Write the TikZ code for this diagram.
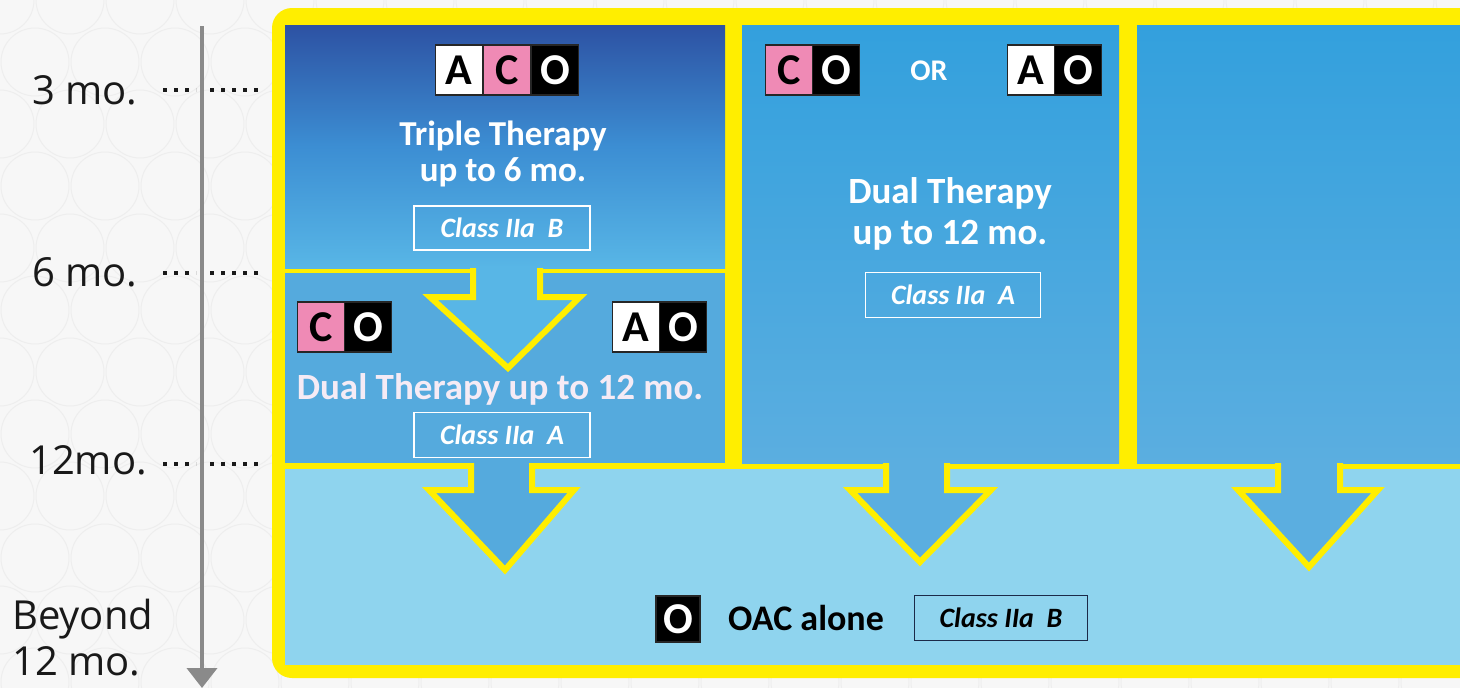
\documentclass[tikz,border=0pt]{standalone}
\usepackage{fontspec}
\setmainfont{Carlito}
\newfontfamily\axisfont{Open Sans}
\usetikzlibrary{arrows.meta}
\definecolor{ylw}{HTML}{FFEE00}
\definecolor{bgc}{HTML}{F7F7F7}
\definecolor{bgcirc}{HTML}{EEEEEE}
\definecolor{tltop}{HTML}{2D52A3}
\definecolor{tlmid}{HTML}{3C8ED3}
\definecolor{tlbot}{HTML}{58B6E6}
\definecolor{mlc}{HTML}{55AADD}
\definecolor{coltop}{HTML}{33A0DD}
\definecolor{colbot}{HTML}{5BAEE0}
\definecolor{bandc}{HTML}{8FD4EE}
\definecolor{cpink}{HTML}{EF8AB5}
\definecolor{axisgray}{HTML}{8A8A8A}
\definecolor{navy}{HTML}{1B2A48}
\tikzset{
  let/.style={draw=black!85, line width=1.5pt, minimum width=47pt, minimum height=50pt, inner sep=0pt,
    font=\fontsize{44}{44}\selectfont\bfseries},
  letA/.style={let, fill=white, text=black},
  letC/.style={let, fill=cpink, text=black},
  letO/.style={let, fill=black, text=white},
  cls/.style={draw=white, line width=1.5pt, minimum width=176pt, minimum height=44pt, inner sep=0pt,
    text=white, font=\fontsize{28}{28}\selectfont\bfseries\itshape},
  ttl/.style={text=white, align=center, inner sep=0pt},
  ylwline/.style={draw=ylw, line width=6pt, line join=miter},
  axlbl/.style={font=\axisfont\fontsize{40}{46}\selectfont, text=black!90, inner sep=0pt},
  dotline/.style={draw=black!90, line width=4pt, dash pattern=on 4pt off 7pt},
  axisline/.style={draw=axisgray, line width=4pt, -{Triangle[width=30pt,length=20pt]}},
}
\begin{document}
\begin{tikzpicture}[x=1pt,y=-1pt]
\useasboundingbox (0,0) rectangle (1460,688);
\clip (0,0) rectangle (1460,688);
% background
\fill[bgc] (0,0) rectangle (1460,688);
\foreach \i in {0,...,21}{
  \foreach \j in {0,...,11}{
    \draw[bgcirc, line width=1pt] ({\i*70+mod(\j,2)*35},{\j*62}) circle[radius=34pt];
  }
}
% outer yellow frame
\fill[ylw, rounded corners=20pt] (272,8) rectangle (1490,678);
% top-left: triple therapy
\shade[top color=tltop, bottom color=tlbot, middle color=tlmid] (285,25) rectangle (725,268);
% middle-left: dual therapy
\fill[mlc] (285,273) rectangle (725,463);
% arrow from triple to dual
\fill[tlbot] (473,266) -- (473,297) -- (430,297) -- (508,368) -- (580,297) -- (540,297) -- (540,266) -- cycle;
\draw[ylwline] (473,268) -- (473,297) -- (430,297) -- (508,368) -- (580,297) -- (540,297) -- (540,268);
% middle column
\shade[top color=coltop, bottom color=colbot] (742,25) rectangle (1119,463);
% right column
\shade[top color=coltop, bottom color=colbot] (1137,25) rectangle (1490,463);
% bottom band
\fill[bandc] (285,469) rectangle (1490,665);
% bottom arrows
\fill[mlc] (471,461) -- (471,490) -- (429,490) -- (505,570) -- (574,490) -- (532,490) -- (532,461) -- cycle;
\draw[ylwline] (471,463) -- (471,490) -- (429,490) -- (505,570) -- (574,490) -- (532,490) -- (532,463);
\fill[colbot] (886,461) -- (886,490) -- (850,490) -- (920,562) -- (991,490) -- (947,490) -- (947,461) -- cycle;
\draw[ylwline] (886,463) -- (886,490) -- (850,490) -- (920,562) -- (991,490) -- (947,490) -- (947,463);
\fill[colbot] (1278,461) -- (1278,490) -- (1238,490) -- (1309,567) -- (1378,490) -- (1340,490) -- (1340,461) -- cycle;
\draw[ylwline] (1278,463) -- (1278,490) -- (1238,490) -- (1309,567) -- (1378,490) -- (1340,490) -- (1340,463);

% ---- top-left content
\node[letA] (tlA) at (459,70) {A};
\node[letC] (tlC) at (507,70) {C};
\node[letO] (tlO) at (555,70) {O};
\node[ttl, font=\fontsize{35}{36}\selectfont\bfseries] (tlT) at (503,154) {Triple Therapy\\up to 6 mo.};
\node[cls] (tlK) at (502,228) {Class IIa\ \ B};

% ---- middle-left content
\node[letC] (mlC) at (321,327) {C};
\node[letO] (mlO) at (368,327) {O};
\node[letA] (mlA) at (636,327) {A};
\node[letO] (mlO2) at (683,327) {O};
\node[ttl, font=\fontsize{37}{38}\selectfont\bfseries, text=white!92!violet] (mlT) at (500,389) {Dual Therapy up to 12 mo.};
\node[cls, minimum height=45pt] (mlK) at (502,435) {Class IIa\ \ A};

% ---- middle column content
\node[letC] (mcC) at (789,70) {C};
\node[letO] (mcO) at (836,70) {O};
\node[ttl, font=\fontsize{30}{30}\selectfont\bfseries] (mcOR) at (929,71) {OR};
\node[letA] (mcA) at (1031,70) {A};
\node[letO] (mcO2) at (1078,70) {O};
\node[ttl, font=\fontsize{37}{41}\selectfont\bfseries] (mcT) at (950,214) {Dual Therapy\\up to 12 mo.};
\node[cls, minimum width=175pt, minimum height=45pt] (mcK) at (953,295) {Class IIa\ \ A};

% ---- bottom band content
\node[letO, minimum width=44pt, minimum height=46pt] (bO) at (678,619) {O};
\node[text=black, inner sep=0pt, font=\fontsize{36}{36}\selectfont\bfseries] (bT) at (806,618) {OAC alone};
\node[cls, draw=navy, text=black, minimum width=173pt, minimum height=45pt] (bK) at (1001,618) {Class IIa\ \ B};

% ---- time axis
\coordinate (axtop) at (202,26);
\coordinate (axbot) at (202,688);
\draw[axisline] (axtop) -- (axbot);
\node[axlbl] (t3) at (85,90) {3 mo.};
\node[axlbl] (t6) at (85,272) {6 mo.};
\node[axlbl] (t12) at (88,460) {12mo.};
\node[axlbl, anchor=west, align=left] (tb) at (12,638) {Beyond\\12 mo.};
\foreach \yy in {90,273,464}{
  \draw[dotline] (163,\yy) -- (196,\yy);
  \draw[dotline] (210,\yy) -- (262,\yy);
}
\end{tikzpicture}
\end{document}
